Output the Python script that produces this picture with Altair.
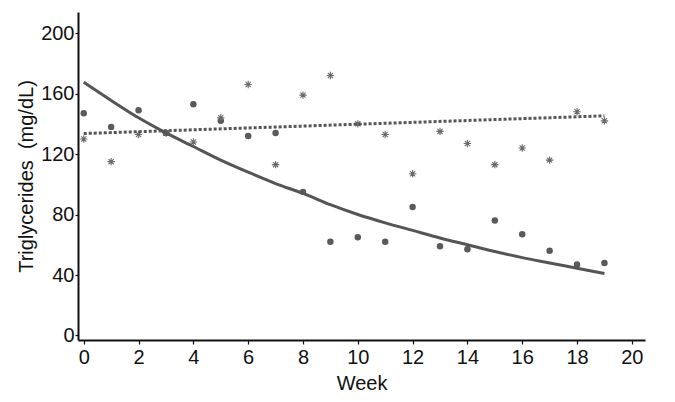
import altair as alt
import pandas as pd

weeks = list(range(20))
tg_circle = [147, 138, 149, 134, 153, 142, 132, 134, 95, 62, 65, 62, 85, 59, 57, 76, 67, 56, 47, 48]
tg_star = [130, 115, 133, 134, 128, 144, 166, 113, 159, 172, 140, 133, 107, 135, 127, 113, 124, 116, 148, 142]

curve_weeks = list(range(20))
curve_vals = [167.5, 155.5, 144, 134, 125, 116, 108, 100.5, 94, 86.5, 80, 74.5, 69.5, 64.5, 60, 55.5, 51.5, 48, 44.5, 41]

dotted_weeks = [0, 19]
dotted_vals = [133.6, 145.3]

x_ticks = list(range(0, 21, 2))
y_ticks = [0, 40, 80, 120, 160, 200]

pts = pd.DataFrame({"week": weeks, "circle": tg_circle, "star": tg_star})
curve = pd.DataFrame({"week": curve_weeks, "val": curve_vals})
dotted = pd.DataFrame({"week": dotted_weeks, "val": dotted_vals})

FONT = "'Liberation Sans Narrow', 'Liberation Sans', sans-serif"

xs = alt.Scale(domain=[-0.21, 20.48], nice=False, zero=False)
ys = alt.Scale(domain=[-3, 214], nice=False, zero=False)

xax = alt.Axis(values=x_ticks, title="Week", grid=False, tickSize=4, labelPadding=3,
               titlePadding=6, domainWidth=2, tickWidth=1.2, domainColor="#111", tickColor="#111",
               labelFontSize=20, titleFontSize=20, labelFont=FONT, titleFont=FONT,
               labelColor="#111", titleColor="#111", titleFontWeight="normal")
yax = alt.Axis(values=y_ticks, title="Triglycerides\u00a0\u00a0(mg/dL)", grid=False, tickSize=3, labelPadding=1,
               titlePadding=4, domainWidth=2, tickWidth=1.2, domainColor="#111", tickColor="#111",
               labelFontSize=20, titleFontSize=20, labelFont=FONT, titleFont=FONT,
               labelColor="#111", titleColor="#111", titleFontWeight="normal")

circles = alt.Chart(pts).mark_circle(size=42, color="#5a5a5a", opacity=1).encode(
    x=alt.X("week:Q", scale=xs, axis=xax),
    y=alt.Y("circle:Q", scale=ys, axis=yax),
)

star_path = "M-1,0L1,0M0,-1L0,1M-0.7,-0.7L0.7,0.7M-0.7,0.7L0.7,-0.7"
stars = alt.Chart(pts).mark_point(shape=star_path, size=55, filled=False, color="#6a6a6a",
                                  strokeWidth=1.1, opacity=1).encode(
    x=alt.X("week:Q", scale=xs),
    y=alt.Y("star:Q", scale=ys),
)

solid = alt.Chart(curve).mark_line(color="#555555", strokeWidth=3, interpolate="monotone").encode(
    x=alt.X("week:Q", scale=xs),
    y=alt.Y("val:Q", scale=ys),
)

dots = alt.Chart(dotted).mark_line(color="#555555", strokeWidth=3, strokeDash=[3, 2]).encode(
    x=alt.X("week:Q", scale=xs),
    y=alt.Y("val:Q", scale=ys),
)

chart = alt.layer(circles, stars, solid, dots).properties(
    width=567, height=328,
    autosize=alt.AutoSizeParams(type="none"),
    padding={"left": 70, "top": 4, "right": 14, "bottom": 54},
    background="white",
).configure_view(stroke=None)

chart.save("out.html", embed_options={"renderer": "svg", "actions": False})
